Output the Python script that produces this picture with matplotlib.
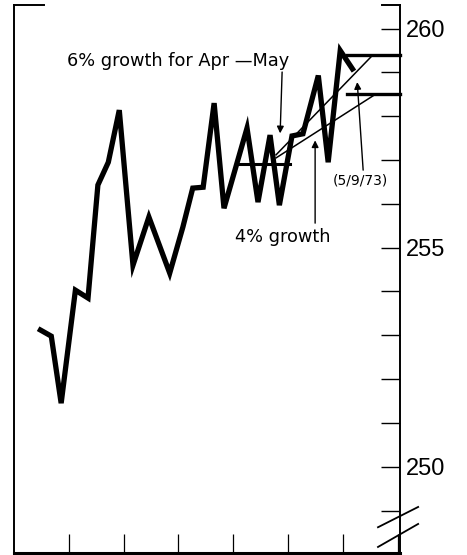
'''
Money stock chart with growth paths, Apr-May 1973.
'''

import matplotlib.pyplot as plt
import numpy as np

#######################################################

# business days along the bottom, ticks every week (5 days)
days = [2.2, 3.4, 4.3, 5.6, 6.75, 7.65, 8.6, 9.6, 10.85, 12.3, 14.2, 15.4,
        16.3, 17.25, 18.25, 19.15, 21.25, 22.25, 23.35, 24.2, 25.35, 26.35,
        27.75, 28.65, 29.75, 31.0]
level = [253.15, 252.98, 251.45, 254.03, 253.85, 256.43, 256.95, 258.14,
         254.6, 255.7, 254.42, 255.47, 256.36, 256.38, 258.3, 255.9, 257.73,
         256.04, 257.57, 255.97, 257.55, 257.6, 258.93, 256.95, 259.5, 259.03]

# base level and the two growth paths
base_x = [20.3, 25.2]
base_y = [256.9, 256.9]
grow6_x = [23.9, 32.65]
grow6_y = [257.12, 259.38]
grow4_x = [23.9, 32.95]
grow4_y = [257.05, 258.5]
end6_x = [30.4, 35.2]
end6_y = [259.4, 259.4]
end4_x = [30.4, 35.2]
end4_y = [258.5, 258.5]

week_ticks = [5, 10, 15, 20, 25, 30, 35]
level_ticks = list(range(249, 261))
level_labels = {250: '250', 255: '255', 260: '260'}

#######################################################

fig = plt.figure(figsize=(4.67, 5.55), dpi=100)
ax = fig.add_axes([14/467, 2/555, 386/467, 548/555])
ax.set_xlim(0, 35.2)
ax.set_ylim(248.03, 260.54)

ax.plot(days, level, c='k', lw=3.8, solid_joinstyle='miter', solid_capstyle='butt')
ax.plot(base_x, base_y, c='k', lw=2.2)
ax.plot(grow6_x, grow6_y, c='k', lw=1.1)
ax.plot(grow4_x, grow4_y, c='k', lw=1.1)
ax.plot(end6_x, end6_y, c='k', lw=2.4, clip_on=False)
ax.plot(end4_x, end4_y, c='k', lw=2.4, clip_on=False)

# frame: left, right, bottom spines; only stubs on top
ax.spines['top'].set_visible(False)
ax.spines['left'].set_linewidth(1.4)
ax.spines['right'].set_linewidth(1.4)
ax.spines['bottom'].set_linewidth(2.2)
ax.plot([0, 0.078], [1, 1], transform=ax.transAxes, c='k', lw=1.4, clip_on=False)
ax.plot([0.953, 1.0], [1, 1], transform=ax.transAxes, c='k', lw=1.4, clip_on=False)

# axis break marks on the right spine
for y0, y1 in [(0.047, 0.084), (0.011, 0.053)]:
    ax.plot([0.943, 1.047], [y0, y1], transform=ax.transAxes,
            c='k', lw=1.3, clip_on=False)

ax.yaxis.tick_right()
ax.set_yticks(level_ticks)
ax.set_yticklabels([level_labels.get(v, '') for v in level_ticks],
                   family='Liberation Sans', fontsize=17)
ax.tick_params(axis='y', direction='in', length=14, width=1.0, pad=4, right=True, left=False)
ax.set_xticks(week_ticks)
ax.set_xticklabels([])
ax.tick_params(axis='x', direction='in', length=14, width=0.9)

ax.text(14.96, 259.26, '6% growth for Apr \u2014May', ha='center', va='center',
        fontsize=12.8, family='DejaVu Sans')
ax.text(24.54, 255.24, '4% growth', ha='center', va='center',
        fontsize=12.8, family='DejaVu Sans')
ax.text(31.6, 256.54, '(5/9/73)', ha='center', va='center',
        fontsize=10, family='DejaVu Sans')

arrow = dict(arrowstyle='-|>', lw=1.0, color='k', mutation_scale=10, shrinkA=0, shrinkB=0)
ax.annotate('', xy=(24.27, 257.61), xytext=(24.45, 259.01), arrowprops=arrow)
ax.annotate('', xy=(27.46, 257.45), xytext=(27.46, 255.56), arrowprops=arrow)
ax.annotate('', xy=(31.3, 258.78), xytext=(31.84, 256.77), arrowprops=arrow)

plt.savefig('out.png', dpi=100)
